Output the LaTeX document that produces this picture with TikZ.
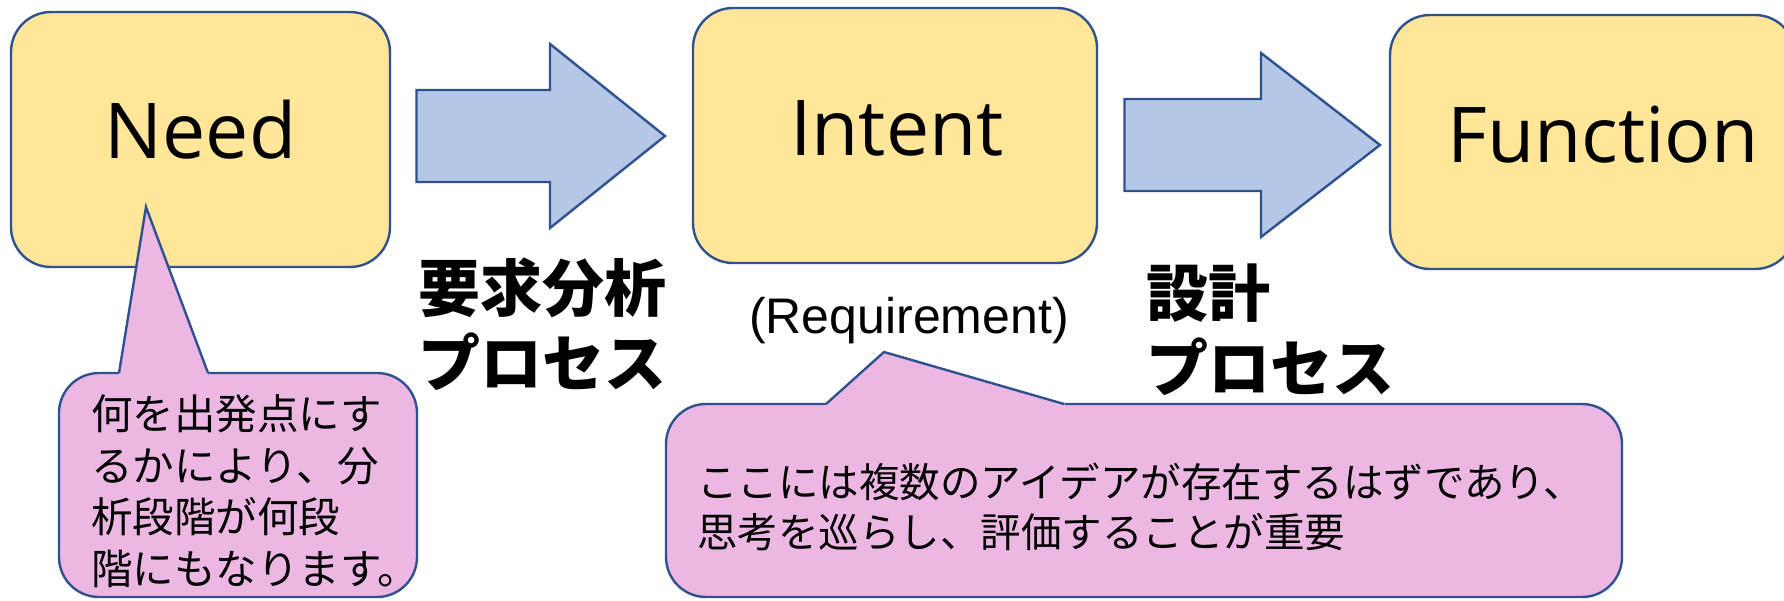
\documentclass[tikz,border=0pt]{standalone}
\usepackage{fontspec}
\setmainfont{Liberation Sans}
\newfontfamily\jpfont{Noto Sans CJK JP}
\newfontfamily\latfont{Open Sans}
\usetikzlibrary{calc}
\definecolor{boxfill}{HTML}{FFE699}
\definecolor{edgeblue}{HTML}{2F528F}
\definecolor{arrowfill}{HTML}{B4C7E7}
\definecolor{notefill}{HTML}{EDB7E4}
\begin{document}
\begin{tikzpicture}[x=1pt,y=-1pt,
  stage/.style={draw=edgeblue, fill=boxfill, line width=2.4pt, rounded corners=40pt, inner sep=0pt},
  stagetext/.style={font=\latfont\fontsize{77}{80}\selectfont, anchor=base, inner sep=0pt},
  blockarrow/.style={draw=edgeblue, fill=arrowfill, line width=2.4pt, line join=miter},
  note/.style={draw=edgeblue, fill=notefill, line width=2.4pt, rounded corners=40pt, inner sep=0pt},
  notetext/.style={anchor=base west, align=left, inner sep=0pt},
  proctext/.style={font=\jpfont\bfseries\fontsize{62}{75}\selectfont, anchor=base west, align=left, inner sep=0pt},
  pointer/.style={draw=edgeblue, line width=2.4pt, line join=miter},
]
\useasboundingbox (0,0) rectangle (1784,600);

% stage boxes
\node[stage, minimum width=379pt, minimum height=255pt] (need) at (200.5,139.5) {};
\node[stage, minimum width=404pt, minimum height=255pt] (intent) at (895,135.5) {};
\node[stage, minimum width=405pt, minimum height=254pt] (function) at (1592.5,142) {};
\node[stagetext] (needtext) at (200.5,158) {Need};
\node[stagetext] (intenttext) at (897,155) {Intent};
\node[stagetext] (functiontext) at (1603,162) {Function};

% block arrows
\draw[blockarrow] (416.5,90) -- (550,90) -- (550,44) -- (665,136) -- (550,228) -- (550,182) -- (416.5,182) -- cycle;
\draw[blockarrow] (1124.5,99) -- (1261,99) -- (1261,53) -- (1380,145) -- (1261,237) -- (1261,191) -- (1124.5,191) -- cycle;

% process labels (base anchor = last line)
\node[proctext] (analysis) at (418,386) {要求分析\\プロセス};
\node[proctext] (design) at (1146,391) {設計\\プロセス};
\node[font=\fontsize{50}{55}\selectfont, anchor=base west, inner sep=0pt] (req) at (749,333) {(Requirement)};

% callout 1
\node[note, minimum width=358pt, minimum height=224pt] (note1) at (238,485) {};
\coordinate (p1a) at (119,373);
\coordinate (p1b) at (208,373);
\coordinate (p1tip) at (146,207);
\fill[notefill] (p1a) -- (p1tip) -- (p1b) -- ($(p1b)+(0.6,3)$) -- ($(p1a)+(-0.4,3)$) -- cycle;
\draw[pointer] (p1a) -- (p1tip) -- (p1b);
\node[notetext, font=\jpfont\fontsize{41.5}{51.5}\selectfont] (note1text) at (91,584) {何を出発点にす\\るかにより、分\\析段階が何段\\階にもなります。};

% callout 2
\node[note, minimum width=956pt, minimum height=193pt] (note2) at (1144,500.5) {};
\coordinate (p2a) at (826,404);
\coordinate (p2b) at (1064,404);
\coordinate (p2tip) at (884,352);
\fill[notefill] (p2a) -- (p2tip) -- (p2b) -- ($(p2b)+(3,3)$) -- ($(p2a)+(-1,3)$) -- cycle;
\draw[pointer] (p2a) -- (p2tip) -- (p2b);
\node[notetext, font=\jpfont\fontsize{40.5}{50}\selectfont] (note2text) at (697,547) {ここには複数のアイデアが存在するはずであり、\\思考を巡らし、評価することが重要};
\end{tikzpicture}
\end{document}
